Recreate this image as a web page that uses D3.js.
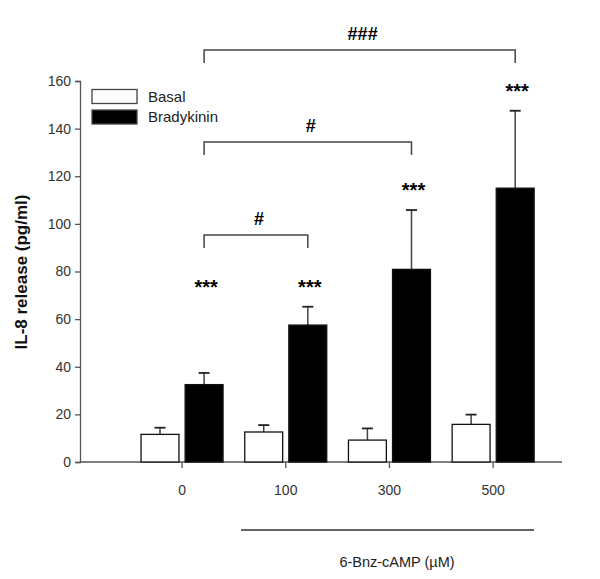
<!DOCTYPE html>
<html><head><meta charset="utf-8">
<script src="https://cdn.jsdelivr.net/npm/d3@7"></script>
<style>body{margin:0;background:#fff}svg{display:block}text{font-family:Arial,"Liberation Sans",sans-serif}</style>
</head><body>
<svg id="chart" width="600" height="579"></svg>
<script>
const categories = ["0", "100", "300", "500"];
const seriesNames = ["Basal", "Bradykinin"];
const basalValues = [11.6, 12.6, 9.2, 15.8];
const basalErrors = [2.8, 2.9, 4.9, 4.1];
const bradykininValues = [32.5, 57.5, 80.9, 115];
const bradykininErrors = [4.9, 7.7, 24.9, 32.5];
const yTicks = [0, 20, 40, 60, 80, 100, 120, 140, 160];
const starLabels = ["***", "***", "***", "***"];
const comparisons = [
  {from: "0", to: "100", label: "#", level: 95.3},
  {from: "0", to: "300", label: "#", level: 134.4},
  {from: "0", to: "500", label: "###", level: 173}
];
const yLabel = "IL-8 release (pg/ml)";
const xLabel = "6-Bnz-cAMP (µM)";

const svg = d3.select("#chart");
const y = d3.scaleLinear().domain([0, 160]).range([462, 81]);
const x0 = d3.scaleBand().domain(categories).range([130.2, 545]).padding(0);
const x1 = d3.scaleBand().domain(seriesNames).range([10.85, 92.85]).paddingInner(0.14);
const fills = {Basal: "#fff", Bradykinin: "#000"};
const axisColor = "#555";

// y axis
const yAxis = svg.append("g").attr("transform", "translate(80,0)")
  .call(d3.axisLeft(y).tickValues(yTicks).tickSize(5).tickPadding(4));
yAxis.select(".domain").attr("stroke", axisColor).attr("stroke-width", 1.3);
yAxis.selectAll(".tick line").attr("stroke", axisColor).attr("stroke-width", 1.3);
yAxis.selectAll(".tick text").attr("font-size", 14).attr("fill", "#333").attr("font-family", "Arial, 'Liberation Sans', sans-serif");

// x axis baseline
svg.append("line").attr("x1", 80).attr("x2", 562).attr("y1", y(0)).attr("y2", y(0))
  .attr("stroke", axisColor).attr("stroke-width", 1.3);
const xt = svg.append("g").selectAll("g").data(categories).join("g")
  .attr("transform", d => `translate(${x0(d) + x0.bandwidth() / 2},0)`);
xt.append("line").attr("y1", y(0)).attr("y2", y(0) + 6).attr("stroke", axisColor).attr("stroke-width", 1.3);
xt.append("text").attr("y", y(0) + 33).attr("text-anchor", "middle").attr("font-size", 14).attr("fill", "#333").text(d => d);

// bars
const rows = categories.map((c, i) => [
  {cat: c, s: "Basal", v: basalValues[i], e: basalErrors[i], i},
  {cat: c, s: "Bradykinin", v: bradykininValues[i], e: bradykininErrors[i], i}
]).flat();
const bx = d => x0(d.cat) + x1(d.s);
const bw = x1.bandwidth();

// error bars (upward)
const eb = svg.append("g").selectAll("g").data(rows).join("g");
eb.append("line").attr("x1", d => bx(d) + bw / 2).attr("x2", d => bx(d) + bw / 2)
  .attr("y1", d => y(d.v)).attr("y2", d => y(d.v + d.e)).attr("stroke", "#444").attr("stroke-width", 1.5);
eb.append("line").attr("x1", d => bx(d) + bw / 2 - 5.5).attr("x2", d => bx(d) + bw / 2 + 5.5)
  .attr("y1", d => y(d.v + d.e)).attr("y2", d => y(d.v + d.e)).attr("stroke", "#222").attr("stroke-width", 1.8);

svg.append("g").selectAll("rect").data(rows).join("rect")
  .attr("x", d => bx(d)).attr("width", bw)
  .attr("y", d => y(d.v)).attr("height", d => y(0) - y(d.v))
  .attr("fill", d => fills[d.s]).attr("stroke", "#111").attr("stroke-width", 1.3);

// stars
const brady = rows.filter(d => d.s === "Bradykinin");
const starY = d => y(d.v + d.e) - 23;
svg.append("g").selectAll("text").data(brady).join("text")
  .attr("x", d => bx(d) + bw / 2 + 2)
  .attr("y", (d, i) => (i === 0 ? starY(brady[1]) : starY(d)) + 10)
  .attr("text-anchor", "middle").attr("font-size", 20).attr("font-weight", "bold")
  .text((d, i) => starLabels[i]);

// brackets
const cx = c => x0(c) + x1("Bradykinin") + bw / 2;
const br = svg.append("g").selectAll("g").data(comparisons).join("g");
br.append("path").attr("fill", "none").attr("stroke", "#444").attr("stroke-width", 1.5)
  .attr("d", d => `M${cx(d.from)},${y(d.level) + 13}V${y(d.level)}H${cx(d.to)}V${y(d.level) + 13}`);
br.append("text").attr("x", d => (cx(d.from) + cx(d.to)) / 2 + 3).attr("y", d => y(d.level) - 10)
  .attr("text-anchor", "middle").attr("font-size", 18).attr("font-weight", "bold").text(d => d.label);

// legend
const lg = svg.append("g").selectAll("g").data(seriesNames).join("g")
  .attr("transform", (d, i) => `translate(92,${89.5 + i * 20.5})`);
lg.append("rect").attr("width", 45).attr("height", 14).attr("fill", d => fills[d]).attr("stroke", "#444").attr("stroke-width", 1.3);
lg.append("text").attr("x", 56).attr("y", 12).attr("font-size", 15).attr("fill", "#222").text(d => d);

// axis titles
svg.append("text").attr("transform", "translate(27,272) rotate(-90)").attr("text-anchor", "middle")
  .attr("font-size", 17).attr("font-weight", "bold").attr("fill", "#111").text(yLabel);
svg.append("line").attr("x1", 241).attr("x2", 534).attr("y1", 530).attr("y2", 530).attr("stroke", "#333").attr("stroke-width", 1.5);
svg.append("text").attr("x", 397).attr("y", 567).attr("text-anchor", "middle").attr("font-size", 14.5).attr("fill", "#222").text(xLabel);
</script>
</body></html>
